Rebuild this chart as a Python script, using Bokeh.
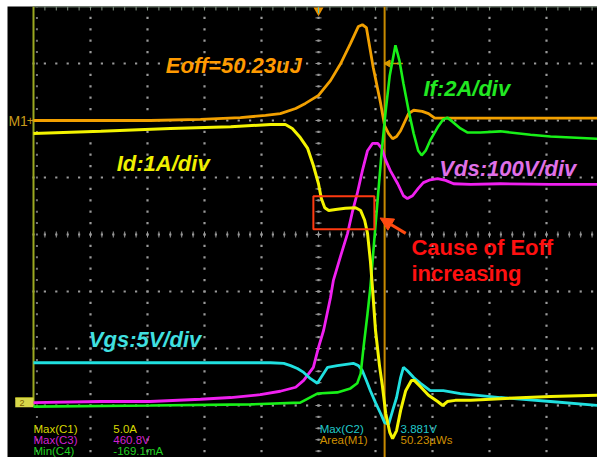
import numpy as np
from bokeh.plotting import figure
from bokeh.models import Range1d, Arrow, NormalHead
from bokeh.embed import file_html
from bokeh.resources import INLINE
from bokeh.core.properties import value

# ---- data: x in horizontal divisions (0 = left graticule edge), y in vertical divisions (0 = screen centre)
m1_x = [0, 2.05, 2.93, 3.63, 4.07, 4.33, 4.60, 4.77, 5.00, 5.21, 5.39, 5.56, 5.70, 5.77, 5.84, 5.96, 6.09, 6.16,
        6.23, 6.30, 6.37, 6.44, 6.58, 6.67, 6.82, 6.93, 7.04, 7.49, 8.19, 9.07, 9.90]
m1_y = [2.00, 2.00, 2.02, 2.05, 2.09, 2.12, 2.21, 2.30, 2.44, 2.70, 3.00, 3.35, 3.65, 3.68, 3.63, 2.93, 2.30, 1.91,
        1.77, 1.68, 1.72, 1.82, 2.12, 2.18, 2.16, 2.12, 2.04, 2.04, 2.04, 2.04, 2.04]

id_x = [0, 1.18, 2.40, 3.46, 4.16, 4.42, 4.54, 4.68, 4.81, 4.91, 5.00, 5.05, 5.11, 5.18, 5.30, 5.47, 5.65, 5.74,
        5.81, 5.86, 5.91, 5.95, 6.00, 6.07, 6.12, 6.18, 6.25, 6.30, 6.37, 6.44, 6.53, 6.63, 6.68, 6.79, 6.93, 7.09,
        7.18, 7.26, 7.40, 7.67, 8.19, 9.07, 9.90]
id_y = [1.77, 1.81, 1.86, 1.89, 1.93, 1.93, 1.86, 1.70, 1.51, 1.21, 0.89, 0.63, 0.47, 0.42, 0.44, 0.46, 0.47, 0.42,
        0.25, 0.02, -0.46, -0.98, -1.68, -2.30, -2.65, -3.14, -3.47, -3.58, -3.44, -3.09, -2.74, -2.56, -2.56, -2.67,
        -2.82, -2.93, -3.00, -2.93, -2.91, -2.91, -2.88, -2.84, -2.82]

if_x = [0, 2.05, 3.81, 4.68, 4.98, 5.33, 5.56, 5.68, 5.74, 5.79, 5.86, 5.91, 6.00, 6.11, 6.18, 6.25, 6.35, 6.42,
        6.49, 6.58, 6.67, 6.75, 6.81, 6.88, 6.96, 7.09, 7.19, 7.26, 7.35, 7.49, 7.61, 7.84, 8.19, 8.72, 9.07, 9.90]
if_y = [-3.02, -3.00, -2.98, -2.95, -2.79, -2.77, -2.70, -2.61, -2.44, -1.98, -1.39, -0.93, 0.16, 1.47, 2.18, 2.79,
        3.32, 3.05, 2.65, 2.18, 1.77, 1.47, 1.39, 1.47, 1.65, 1.88, 2.02, 2.05, 1.98, 1.86, 1.79, 1.79, 1.81, 1.75,
        1.72, 1.68]

vds_x = [0, 1.18, 2.05, 2.93, 3.46, 3.98, 4.33, 4.60, 4.74, 4.91, 5.00, 5.09, 5.21, 5.26, 5.39, 5.51, 5.60, 5.68,
         5.77, 5.86, 5.95, 6.04, 6.11, 6.18, 6.26, 6.39, 6.49, 6.56, 6.65, 6.75, 6.84, 6.96, 7.09, 7.23, 7.37, 7.67,
         8.19, 9.07, 9.90]
vds_y = [-2.95, -2.93, -2.93, -2.89, -2.86, -2.81, -2.75, -2.68, -2.56, -2.33, -1.98, -1.68, -1.11, -0.81, -0.37,
         0.02, 0.42, 0.72, 1.12, 1.47, 1.60, 1.60, 1.51, 1.30, 1.12, 0.89, 0.68, 0.63, 0.68, 0.81, 0.91, 0.96, 0.98,
         0.95, 0.89, 0.88, 0.89, 0.88, 0.88]

vgs_x = [0, 1.18, 2.93, 4.16, 4.39, 4.51, 4.63, 4.74, 4.86, 4.98, 5.07, 5.16, 5.33, 5.61, 5.70, 5.77, 5.84, 5.91,
         6.00, 6.09, 6.16, 6.23, 6.30, 6.37, 6.44, 6.49, 6.56, 6.67, 6.79, 6.96, 7.19, 7.49, 8.19, 9.07, 9.90]
vgs_y = [-2.25, -2.25, -2.25, -2.25, -2.26, -2.30, -2.35, -2.42, -2.53, -2.61, -2.47, -2.33, -2.30, -2.26, -2.30,
         -2.39, -2.56, -2.74, -2.95, -3.14, -3.30, -3.33, -3.09, -2.86, -2.51, -2.33, -2.39, -2.51, -2.61, -2.74,
         -2.74, -2.79, -2.86, -2.93, -3.00]

cursor_x = 6.16
trigger_x = 5.0

trace_labels = ["Eoff=50.23uJ", "If:2A/div", "Id:1A/div", "Vds:100V/div", "Vgs:5V/div"]
meas_left = ["Max(C1)", "Max(C3)", "Min(C4)"]
meas_left_val = ["5.0A", "460.8V", "-169.1mA"]
meas_right = ["Max(C2)", "Area(M1)"]
meas_right_val = ["3.881V", "50.23µWs"]

# ---- figure
p = figure(width=597, height=457, x_range=Range1d(-26 / 57, 564 / 57), y_range=Range1d(-223 / 57, 4.0),
           x_axis_type=None, y_axis_type=None, toolbar_location=None, output_backend="svg",
           min_border_left=7, min_border_top=6, min_border_right=0, min_border_bottom=0)
p.background_fill_color = "black"
p.border_fill_color = "white"
p.outline_line_color = None
p.grid.visible = False

# graticule dots
gc = "#9a9a9a"
vx, vy = np.meshgrid(np.arange(1, 10), np.arange(-4, 4.001, 0.2))
p.scatter(vx.ravel(), vy.ravel(), marker="square", size=2.2, color=gc, line_color=None)
hx, hy = np.meshgrid(np.arange(0, 9.95, 0.2), np.arange(-3, 3.5, 1))
p.scatter(hx.ravel(), hy.ravel(), marker="square", size=2.2, color=gc, line_color=None)
# centre-line ticks
tx = np.arange(0, 9.95, 0.2)
p.scatter(tx, np.zeros_like(tx), marker="dash", angle=np.pi / 2, size=6, line_color=gc, line_width=1)
ty = np.arange(-4, 4.001, 0.2)
p.scatter(np.full_like(ty, 5.0), ty, marker="dash", size=6, line_color=gc, line_width=1)
# left-edge minor ticks
p.scatter(np.full_like(ty, 0.06), ty, marker="square", size=2, color="#7a7a7a", line_color=None)
# top border + ticks
p.line([0, 9.9], [4.0, 4.0], line_color="#5f6f5f", line_width=2)
p.scatter(tx, np.full_like(tx, 4.0), marker="dash", angle=np.pi / 2, size=8, line_color="#7f8f7f", line_width=1)
# left border
p.line([0, 0], [-3.0, 4.0], line_color="#9aa820", line_width=2)
p.line([-0.32, 0], [-2.87, -2.87], line_color="#c8c820", line_width=1.5)
# ground marker box
p.quad(left=[-0.32], right=[0.0], bottom=[-3.03], top=[-2.87], fill_color="#d8d84a", line_color=None)
p.text(x=[-0.2], y=[-2.95], text=["2"], text_color="#806000", text_font=value("Liberation Sans"),
       text_font_size="9px", text_baseline="middle", text_align="center")
# M1 marker
p.text(x=[-0.44], y=[2.0], text=["M1"], text_color="#c89a1a", text_font=value("Liberation Sans"),
       text_font_size="14px", text_baseline="middle")
p.text(x=[-0.12], y=[2.0], text=["+"], text_color="#c89a1a", text_font=value("Liberation Sans"),
       text_font_size="12px", text_baseline="middle")

# cursor
p.line([cursor_x, cursor_x], [-4.0, 4.0], line_color="#c88a00", line_width=2)
p.line([cursor_x, cursor_x + 0.32], [3.0, 3.0], line_color="#d89a00", line_width=1.5)
p.scatter([cursor_x + 0.06], [3.0], marker="triangle", angle=np.pi / 2, size=7, color="#d89a00")
# trigger marker
p.scatter([trigger_x], [3.93], marker="inverted_triangle", size=10, color="#e89000", line_color=None)
p.line([trigger_x, trigger_x], [3.88, 3.98], line_color="#40c0c0", line_width=1)

# traces
p.line(m1_x, m1_y, line_color="#f2a000", line_width=2.8)
p.line(vds_x, vds_y, line_color="#f020f0", line_width=2.8)
p.line(vgs_x, vgs_y, line_color="#20e0e0", line_width=2.8)
p.line(if_x, if_y, line_color="#18f018", line_width=2.6)
p.line(id_x, id_y, line_color="#f4f400", line_width=3)

# highlight box and arrow
p.quad(left=[4.91], right=[5.98], bottom=[0.09], top=[0.67], fill_alpha=0, line_color="#ff3a10", line_width=2)
p.add_layout(Arrow(end=NormalHead(size=13, fill_color="#ff4a10", line_color="#ff4a10"),
                   x_start=6.53, y_start=0.02, x_end=6.08, y_end=0.29,
                   line_color="#ff4a10", line_width=3))

# trace labels
lab_x = [2.32, 6.84, 1.46, 7.12, 0.97]
lab_y = [2.965, 2.56, 1.246, 1.158, -1.842]
lab_c = ["#ff9a00", "#22e822", "#f0f000", "#e070e8", "#40e0e0"]
for tx_, ty_, t, c in zip(lab_x, lab_y, trace_labels, lab_c):
    p.text(x=[tx_], y=[ty_], text=[t], text_color=c, text_font=value("Liberation Sans"),
           text_font_size="22px", text_font_style="bold italic", text_baseline="alphabetic")

p.text(x=[6.63, 6.63], y=[-0.228, -0.684], text=["Cause of Eoff", "increasing"], text_color="#ff1010",
       text_font=value("Liberation Sans"), text_font_size="22px", text_font_style="bold",
       text_baseline="alphabetic")

# measurement read-outs
ml_c = ["#d8d800", "#d020d0", "#20d020"]
ml_y = [-3.42, -3.61, -3.80]
for yv, t, v, c in zip(ml_y, meas_left, meas_left_val, ml_c):
    p.text(x=[0.0], y=[yv], text=[t], text_color=c, text_font=value("Liberation Sans"),
           text_font_size="11.5px", text_baseline="alphabetic")
    p.text(x=[1.40], y=[yv], text=[v], text_color=c, text_font=value("Liberation Sans"),
           text_font_size="11.5px", text_baseline="alphabetic")
mr_c = ["#20c8c8", "#d09000"]
for yv, t, v, c in zip(ml_y[:2], meas_right, meas_right_val, mr_c):
    p.text(x=[5.02], y=[yv], text=[t], text_color=c, text_font=value("Liberation Sans"),
           text_font_size="11.5px", text_baseline="alphabetic")
    p.text(x=[6.44], y=[yv], text=[v], text_color=c, text_font=value("Liberation Sans"),
           text_font_size="11.5px", text_baseline="alphabetic")

open("out.html", "w").write(file_html(p, INLINE))
